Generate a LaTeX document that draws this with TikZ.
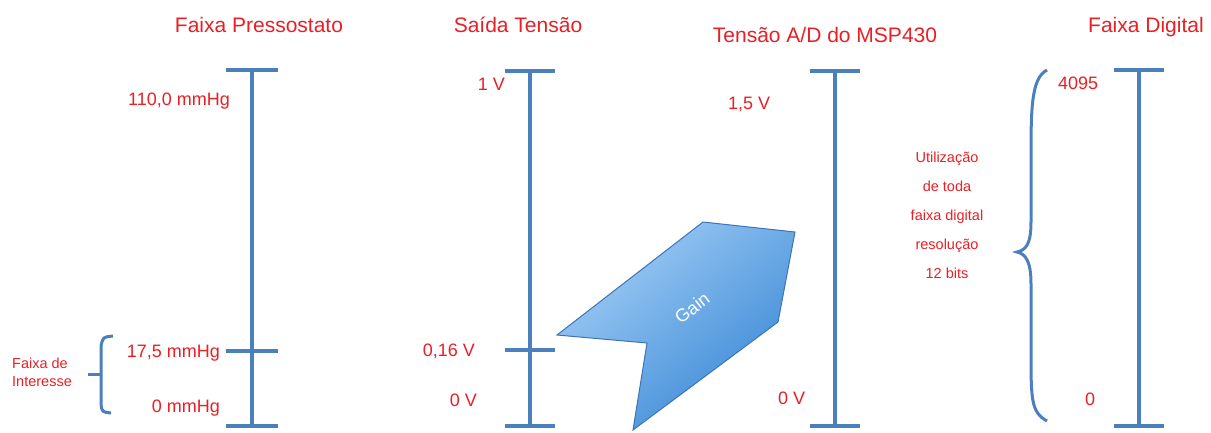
\documentclass[tikz,border=0pt]{standalone}
\usepackage{fontspec}
\setmainfont{Liberation Sans}
\definecolor{barblue}{RGB}{74,128,190}
\definecolor{txtred}{RGB}{232,32,38}
\definecolor{gainlight}{RGB}{160,205,245}
\definecolor{gaindark}{RGB}{58,136,214}
\definecolor{gainedge}{RGB}{62,116,180}
\begin{document}
\begin{tikzpicture}[x=1pt,y=-1pt,
  bar/.style={draw=barblue,line width=4pt},
  brk/.style={draw=barblue,line width=3pt},
  lbl/.style={text=txtred,inner sep=0pt,font=\fontsize{18}{20}\selectfont},
  ttl/.style={text=txtred,inner sep=0pt,font=\fontsize{21}{24}\selectfont},
  note/.style={text=txtred,inner sep=0pt,font=\fontsize{14.5}{18}\selectfont},
 ]
\useasboundingbox[fill=white] (0,0) rectangle (1211,432);

% titles
\node[ttl,anchor=base] (t1) at (259,32) {Faixa Pressostato};
\node[ttl,anchor=base] (t2) at (518,32) {Saída Tensão};
\node[ttl,anchor=base] (t3) at (825,42) {Tensão A/D do MSP430};
\node[ttl,anchor=base] (t4) at (1146,32) {Faixa Digital};

% bar 1
\coordinate (b1t) at (252,70); \coordinate (b1m) at (252,351); \coordinate (b1b) at (252,426);
\draw[bar] (b1t) -- (b1b);
\draw[bar] ([xshift=-26pt]b1t) -- ([xshift=26pt]b1t);
\draw[bar] ([xshift=-26pt]b1m) -- ([xshift=26pt]b1m);
\draw[bar] ([xshift=-26pt]b1b) -- ([xshift=26pt]b1b);
\node[lbl,anchor=base east] (l11) at (230,105.5) {110,0 mmHg};
\node[lbl,anchor=base east] (l12) at (220,357) {17,5 mmHg};
\node[lbl,anchor=base east] (l13) at (220,412.5) {0 mmHg};
% bracket
\draw[brk] (113,336) .. controls (103,337) .. (101,346) -- (101,404) .. controls (102,412) .. (111,413);
\coordinate (brm) at (101,374);
\draw[brk] (brm) -- ++(-13,0);
\node[note,anchor=base west] (fi1) at (12,368) {Faixa de};
\node[note,anchor=base west] (fi2) at (12,386) {Interesse};

% bar 2
\coordinate (b2t) at (530,71); \coordinate (b2m) at (530,350); \coordinate (b2b) at (530,426);
\draw[bar] (b2t) -- (b2b);
\draw[bar] ([xshift=-25pt]b2t) -- ([xshift=25pt]b2t);
\draw[bar] ([xshift=-25pt]b2m) -- ([xshift=25pt]b2m);
\draw[bar] ([xshift=-25pt]b2b) -- ([xshift=25pt]b2b);
\node[lbl,anchor=base east] (l21) at (505,90) {1 V};
\node[lbl,anchor=base east] (l22) at (475,356.5) {0,16 V};
\node[lbl,anchor=base east] (l23) at (477,406.5) {0 V};

% gain shape
\path[draw=gainedge,line width=1pt,top color=gainlight,bottom color=gaindark,shading angle=40]
  (557,335) -- (703,222) -- (795,232) -- (778,322) -- (633,430) -- (647,343) -- cycle;
\node[text=white,rotate=38,inner sep=0pt,font=\fontsize{18}{20}\selectfont] (gain) at (692,308) {Gain};

% bar 3
\coordinate (b3t) at (835,71); \coordinate (b3b) at (835,426);
\draw[bar] (b3t) -- (b3b);
\draw[bar] ([xshift=-25pt]b3t) -- ([xshift=25pt]b3t);
\draw[bar] ([xshift=-25pt]b3b) -- ([xshift=25pt]b3b);
\node[lbl,anchor=base west] (l31) at (728,109.5) {1,5 V};
\node[lbl,anchor=base west] (l32) at (778,404.5) {0 V};

% bar 4
\coordinate (b4t) at (1139,70); \coordinate (b4b) at (1139,426);
\draw[bar] (b4t) -- (b4b);
\draw[bar] ([xshift=-25pt]b4t) -- ([xshift=25pt]b4t);
\draw[bar] ([xshift=-25pt]b4b) -- ([xshift=25pt]b4b);
\node[lbl,anchor=base west] (l41) at (1058,89.5) {4095};
\node[lbl,anchor=base west] (l42) at (1085,405.5) {0};
% curly brace
\draw[brk] (1047,70) .. controls (1031,78) and (1031,110) .. (1031,160) -- (1031,222)
  .. controls (1031,244) and (1026,250) .. (1017,252)
  .. controls (1026,254) and (1031,262) .. (1031,284) -- (1031,350)
  .. controls (1031,400) and (1031,412) .. (1047,421);
\node[note,align=center,font=\fontsize{14.5}{29}\selectfont] (ut) at (947,215)
  {Utilização\\de toda\\faixa digital\\resolução\\12 bits};
\end{tikzpicture}
\end{document}
